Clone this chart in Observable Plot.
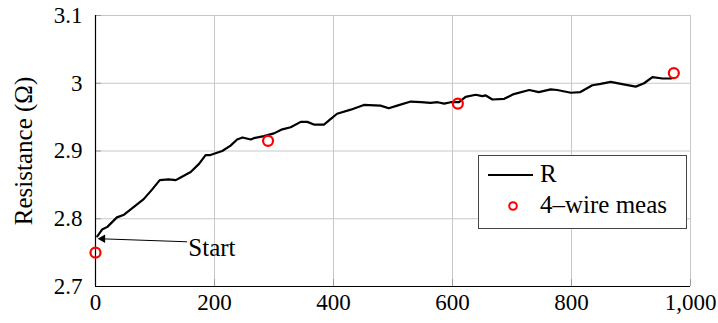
<!DOCTYPE html>
<html>
<head>
<meta charset="utf-8">
<script src="https://cdn.jsdelivr.net/npm/d3@7"></script>
<script src="https://cdn.jsdelivr.net/npm/@observablehq/plot@0.6"></script>
<style>
  body { margin: 0; background: #fff; }
  #chart { position: relative; width: 718px; height: 323px; font-family: 'Liberation Serif'; }
  #legend { position: absolute; left: 478px; top: 155px; }
  #legend text { font-family: 'Liberation Serif'; font-size: 25px; fill: #000; }
</style>
</head>
<body>
<div id="chart"></div>
<script>
// Resistance trace over cycles
const cycles = [3, 11, 20, 36, 48, 64, 81, 95, 108, 123, 135, 143, 160, 174, 185, 193,
  213, 227, 238, 247, 261, 266, 283, 300, 314, 328, 345, 356, 367, 384, 395, 406,
  429, 451, 479, 493, 507, 530, 547, 563, 575, 586, 597, 611, 622, 639, 650, 656,
  667, 687, 703, 729, 745, 765, 776, 799, 815, 835, 849, 866, 883, 908, 922, 936,
  953, 968];
const resistance = [2.774, 2.784, 2.788, 2.802, 2.806, 2.817, 2.829, 2.843, 2.857, 2.858,
  2.857, 2.861, 2.869, 2.881, 2.894, 2.894, 2.900, 2.908, 2.917, 2.920, 2.917, 2.919,
  2.922, 2.926, 2.932, 2.935, 2.943, 2.943, 2.939, 2.939, 2.947, 2.955, 2.961, 2.968,
  2.967, 2.963, 2.967, 2.973, 2.972, 2.971, 2.972, 2.970, 2.972, 2.972, 2.980, 2.983,
  2.981, 2.982, 2.976, 2.977, 2.984, 2.990, 2.987, 2.991, 2.990, 2.986, 2.987, 2.997,
  2.999, 3.002, 2.999, 2.995, 3.000, 3.009, 3.007, 3.007];

// 4-wire reference measurements
const measCycles = [0, 290, 609, 972];
const measResistance = [2.750, 2.915, 2.970, 3.015];

// Axis ticks
const xTicks = [0, 200, 400, 600, 800, 1000];
const yTicks = [2.7, 2.8, 2.9, 3.0, 3.1];

// "Start" annotation: arrow from the label back to the first sample
const startLabel = "Start";
const startArrow = {x1: 154, y1: 2.766, x2: 7, y2: 2.7705};
const startText = {x: 156, y: 2.7575};

const yLabel = "Resistance (Ω)";

const trace = cycles.map((c, i) => ({cycle: c, r: resistance[i]}));
const meas = measCycles.map((c, i) => ({cycle: c, r: measResistance[i]}));

const serif = "Liberation Serif";
const fmtY = d => String(+d.toFixed(1));

const plot = Plot.plot({
  width: 718,
  height: 323,
  marginLeft: 95,
  marginRight: 28,
  marginTop: 15,
  marginBottom: 37,
  style: {fontFamily: serif, fontSize: "23px", background: "#fff", color: "#000"},
  x: {domain: [0, 1000]},
  y: {domain: [2.7, 3.1]},
  marks: [
    Plot.gridX(xTicks, {stroke: "#c8c8c8", strokeOpacity: 1}),
    Plot.gridY(yTicks, {stroke: "#c8c8c8", strokeOpacity: 1}),
    Plot.tickX(xTicks, {stroke: "#9a9a9a", insetTop: 264}),
    Plot.tickY(yTicks, {stroke: "#9a9a9a", insetRight: 589}),
    Plot.axisX(xTicks, {tickSize: 0, tickPadding: 7, label: null, fontSize: 23, fontFamily: serif, tickFormat: d3.format(",")}),
    Plot.axisY(yTicks, {tickSize: 0, tickPadding: 13, label: null, fontSize: 23, fontFamily: serif, tickFormat: fmtY}),
    Plot.text([yLabel], {frameAnchor: "left", rotate: -90, dx: -64, textAnchor: "middle", lineAnchor: "bottom", fontSize: 25, fontFamily: serif}),
    Plot.ruleX([0], {stroke: "#000", strokeWidth: 1.2}),
    Plot.ruleY([2.7], {stroke: "#000", strokeWidth: 1.2}),
    Plot.line(trace, {x: "cycle", y: "r", stroke: "#000", strokeWidth: 2.2, strokeLinejoin: "round"}),
    Plot.dot(meas, {x: "cycle", y: "r", r: 5, stroke: "#ff0000", strokeWidth: 2.2, fill: "none"}),
    Plot.link([startArrow], {x1: "x1", y1: "y1", x2: "x2", y2: "y2", stroke: "#000", strokeWidth: 1}),
    Plot.dot([startArrow], {x: "x2", y: "y2", symbol: "triangle", rotate: -90, r: 3.2, fill: "#000", stroke: "none", dx: 3}),
    Plot.text([startText], {x: "x", y: "y", text: () => startLabel, textAnchor: "start", fontSize: 25, fontFamily: serif})
  ]
});

const chart = document.getElementById("chart");
chart.appendChild(plot);

// Legend box drawn over the plot area
const legend = document.createElement("div");
legend.id = "legend";
legend.innerHTML = `
<svg width="210" height="75">
  <rect x="0.5" y="0.5" width="208" height="73" fill="#fff" stroke="#444" stroke-width="1"/>
  <line x1="10" x2="55" y1="20" y2="20" stroke="#000" stroke-width="2.2"/>
  <text x="62" y="27">R</text>
  <circle cx="35" cy="51" r="3.8" fill="none" stroke="#ff0000" stroke-width="2"/>
  <text x="62" y="58">4–wire meas</text>
</svg>`;
chart.appendChild(legend);
</script>
</body>
</html>
